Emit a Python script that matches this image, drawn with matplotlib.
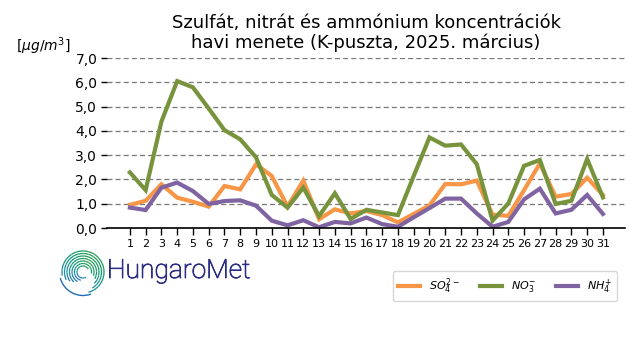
import numpy as np
import matplotlib
matplotlib.use("Agg")
import matplotlib.pyplot as plt
import matplotlib.patheffects as pe
from matplotlib.patches import Arc

days = list(range(1, 32))
so4 = [0.95, 1.12, 1.80, 1.25, 1.08, 0.88, 1.73, 1.59, 2.62, 2.14, 0.88, 1.95, 0.36, 0.77, 0.60,
       0.70, 0.53, 0.23, 0.58, 0.93, 1.81, 1.80, 1.95, 0.55, 0.50, 1.56, 2.66, 1.29, 1.40, 2.07, 1.36]
no3 = [2.29, 1.56, 4.38, 6.05, 5.79, 4.92, 4.03, 3.65, 2.91, 1.36, 0.84, 1.66, 0.49, 1.43, 0.37,
       0.75, 0.64, 0.53, 2.14, 3.73, 3.39, 3.44, 2.63, 0.30, 1.01, 2.56, 2.80, 0.99, 1.12, 2.84, 1.26]
nh4 = [0.84, 0.74, 1.66, 1.87, 1.52, 0.99, 1.11, 1.14, 0.92, 0.30, 0.11, 0.32, 0.03, 0.25, 0.19,
       0.43, 0.16, 0.05, 0.44, 0.82, 1.21, 1.21, 0.60, 0.05, 0.25, 1.18, 1.62, 0.60, 0.75, 1.36, 0.58]
labels = [r"$SO_4^{2-}$", r"$NO_3^{-}$", r"$NH_4^{+}$"]
colors = ["#F79646", "#77933C", "#8064A2"]
yticks = [0, 1, 2, 3, 4, 5, 6, 7]
ytick_labels = ["0,0", "1,0", "2,0", "3,0", "4,0", "5,0", "6,0", "7,0"]
title = "Szulfát, nitrát és ammónium koncentrációk\nhavi menete (K-puszta, 2025. március)"

W, H = 640, 360
fig = plt.figure(figsize=(6.4, 3.6), dpi=100)
ax = fig.add_axes([107 / W, 1 - 228 / H, (625 - 107) / W, (228 - 58) / H])

for vals, lab, c in zip([so4, no3, nh4], labels, colors):
    ax.plot(days, vals, color=c, lw=3, label=lab, solid_joinstyle="miter")

ax.set_xlim(-0.45, 32.4)
ax.set_ylim(0, 7)
ax.set_yticks(yticks)
ax.set_yticklabels(ytick_labels, fontsize=10)
ax.set_xticks(days)
ax.set_xticklabels([str(d) for d in days], fontsize=8)
ax.tick_params(axis="y", length=4, width=1, pad=3)
ax.tick_params(axis="x", length=5, width=1, pad=3)
ax.grid(axis="y", color="#777777", linestyle=(0, (4, 2.5)), lw=0.9)
ax.set_axisbelow(True)
for s in ["left", "top", "right"]:
    ax.spines[s].set_visible(False)
ax.spines["bottom"].set_linewidth(1.2)
ax.set_title(title, fontsize=13, linespacing=1.1, pad=7)

fig.text(16 / W, 1 - 46 / H, r"[$\mu g/m^3$]", fontsize=10, va="center", ha="left")

leg = fig.legend(loc="center", bbox_to_anchor=(505 / W, 1 - 286 / H), ncol=3, fontsize=8,
                 frameon=True, handlelength=2.0, columnspacing=1.8, borderpad=0.45,
                 handletextpad=0.8)
leg.get_frame().set_edgecolor("#cccccc")

# logo (spiral of arcs)
lax = fig.add_axes([56 / W, 1 - 299 / H, 54 / W, 54 / H])
lax.set_xlim(-27, 27)
lax.set_ylim(-27, 27)
lax.set_aspect("equal")
lax.axis("off")
cmap = matplotlib.colors.LinearSegmentedColormap.from_list("lg", ["#1f6fb5", "#1a8fa0", "#0f9a6a", "#2a9d55"])
spiral = [(6, 30, 300), (8.5, -10, 255), (11, -20, 240), (13.5, -30, 228), (16, -45, 215),
          (18.5, -60, 205), (21, -75, 190)]
for r, t1, t2 in spiral:
    n = 16
    for k in range(n):
        a0 = t1 + (t2 - t1) * k / n
        a1 = t1 + (t2 - t1) * (k + 1) / n
        mid = (a0 + a1) / 2 % 360
        f = 1 - min(abs(((mid - 60 + 180) % 360) - 180) / 180, 1)
        lax.add_patch(Arc((0, 0), 2 * r, 2 * r, theta1=a0, theta2=a1,
                          color=cmap(f), lw=0.9))
lax.add_patch(Arc((0, 0), 47, 47, theta1=195, theta2=290, color="#1f6fb5", lw=1.0))
logo_color = "#2b2e83"
fig.text(107 / W, 1 - 271 / H, "HungaroMet", fontsize=19, color=logo_color,
         family="Roboto", fontweight="light", va="center", ha="left",
         path_effects=[pe.Stroke(linewidth=0.6, foreground=logo_color), pe.Normal()])

fig.savefig("out.png", dpi=100)
